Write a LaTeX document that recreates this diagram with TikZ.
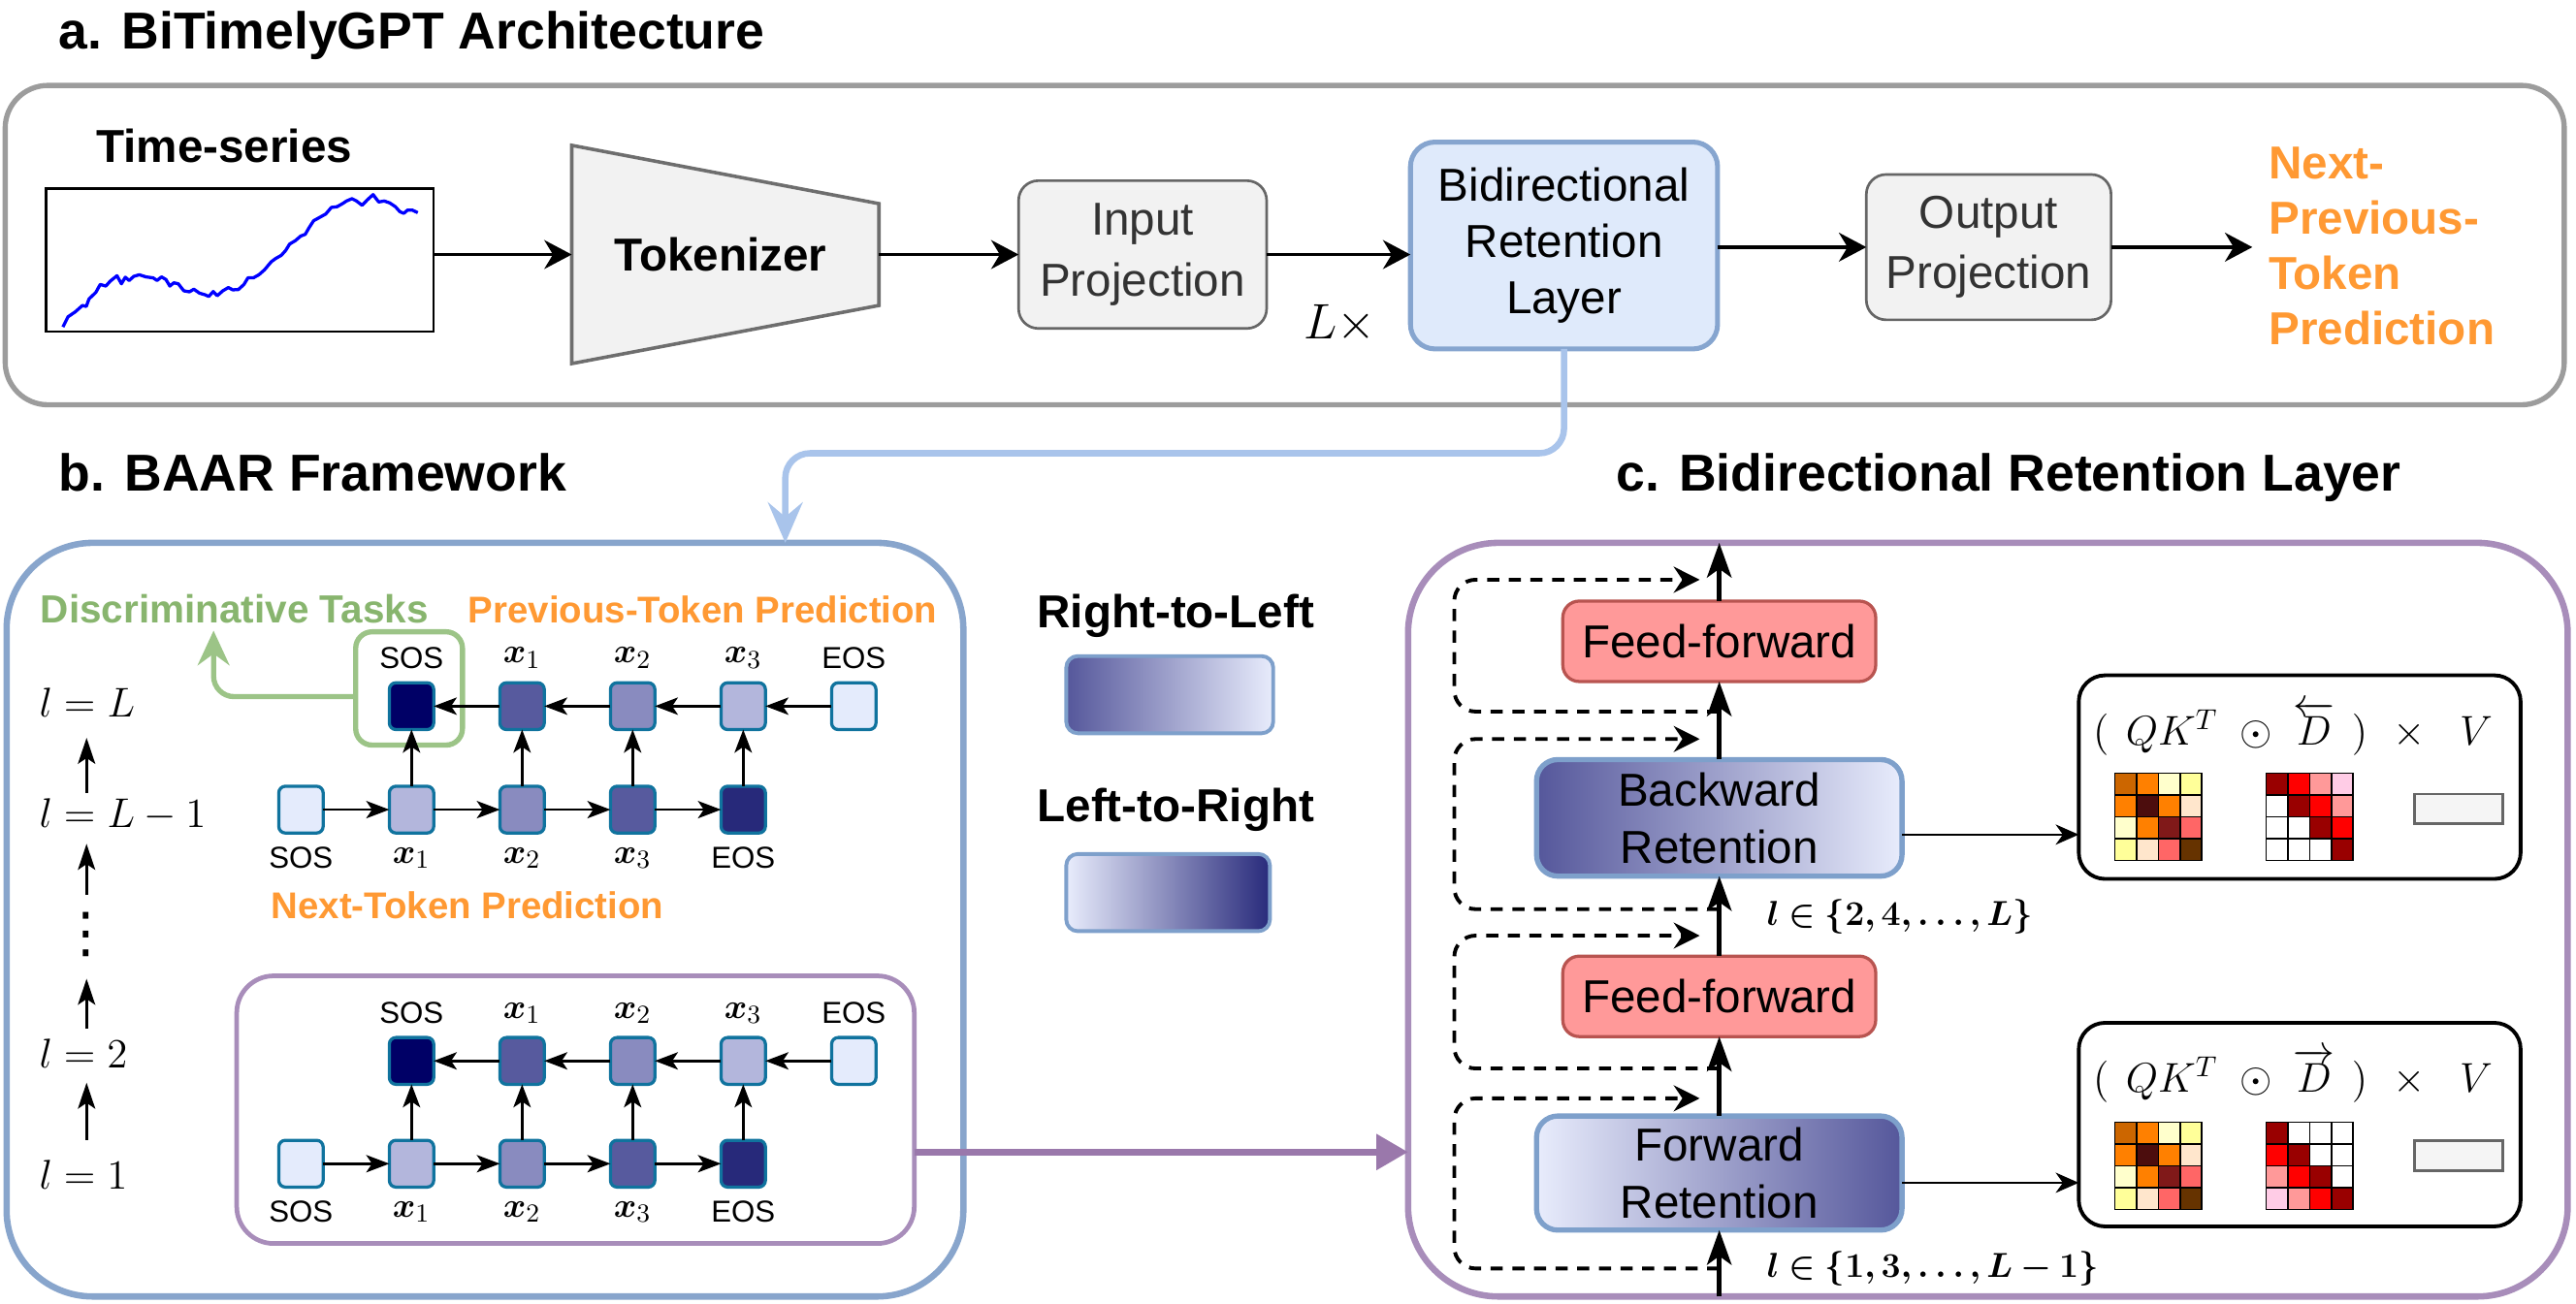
\documentclass[tikz,border=0pt]{standalone}
\usepackage{fontspec}
\setmainfont{Liberation Sans}
\newfontfamily\djv{DejaVu Sans}
\usepackage{amsmath,amssymb,bm}
\usetikzlibrary{arrows.meta,calc}

\definecolor{gedge}{HTML}{9C9C9C}
\definecolor{gfill}{HTML}{F2F2F2}
\definecolor{gdark}{HTML}{666666}
\definecolor{tokgray}{HTML}{6E6E6E}
\definecolor{gtext}{HTML}{333333}
\definecolor{bfill}{HTML}{DFEAFB}
\definecolor{bedge}{HTML}{86A5CF}
\definecolor{connc}{HTML}{A9C4EB}
\definecolor{baarc}{HTML}{88A5CC}
\definecolor{purpc}{HTML}{A88DBA}
\definecolor{purpa}{HTML}{9A78AB}
\definecolor{orng}{HTML}{FF9933}
\definecolor{grntx}{HTML}{88B56E}
\definecolor{grnbx}{HTML}{9CC487}
\definecolor{tokedge}{HTML}{10739E}
\definecolor{tA}{HTML}{000066}
\definecolor{tB}{HTML}{575A9E}
\definecolor{tC}{HTML}{898BBF}
\definecolor{tD}{HTML}{B3B6DC}
\definecolor{tE}{HTML}{E4EBFC}
\definecolor{tF}{HTML}{27297A}
\definecolor{gradd}{HTML}{55579B}
\definecolor{gradl}{HTML}{E8ECFC}
\definecolor{gradn}{HTML}{282A7B}
\definecolor{redge}{HTML}{7EA0CB}
\definecolor{fffill}{HTML}{FF9999}
\definecolor{ffedge}{HTML}{B85450}
\definecolor{tsblue}{HTML}{0000FF}
\definecolor{vfill}{HTML}{F5F5F5}
\definecolor{mA}{HTML}{CC6600}
\definecolor{mB}{HTML}{FF8000}
\definecolor{mC}{HTML}{FFFFCC}
\definecolor{mD}{HTML}{FFFF99}
\definecolor{mE}{HTML}{4C0D0D}
\definecolor{mF}{HTML}{FFE6CC}
\definecolor{mG}{HTML}{801919}
\definecolor{mH}{HTML}{FF6666}
\definecolor{mI}{HTML}{663300}
\definecolor{dA}{HTML}{990000}
\definecolor{dB}{HTML}{FF0000}
\definecolor{dC}{HTML}{FF9999}
\definecolor{dD}{HTML}{FFCCE6}

\newcommand\xlab[1]{{\fontsize{13}{15}\selectfont$\bm{x}_{#1}$}}
\newcommand\matqk[2]{%
 \foreach \i/\j/\c in {0/0/mA,1/0/mB,2/0/mC,3/0/mD,0/1/mB,1/1/mE,2/1/mB,3/1/mF,0/2/mC,1/2/mB,2/2/mG,3/2/mH,0/3/mD,1/3/mF,2/3/mH,3/3/mI}
 {\filldraw[fill=\c, draw=black, line width=0.5pt] ({#1+\i*13.2},{#2+\j*13.3}) rectangle ++(13.2,13.3);}}
\newcommand\matup[2]{%
 \foreach \i/\j/\c in {0/0/dA,1/0/dB,2/0/dC,3/0/dD,0/1/white,1/1/dA,2/1/dB,3/1/dC,0/2/white,1/2/white,2/2/dA,3/2/dB,0/3/white,1/3/white,2/3/white,3/3/dA}
 {\filldraw[fill=\c, draw=black, line width=0.5pt] ({#1+\i*13.2},{#2+\j*13.3}) rectangle ++(13.2,13.3);}}
\newcommand\matlo[2]{%
 \foreach \j/\i/\c in {0/0/dA,1/0/dB,2/0/dC,3/0/dD,0/1/white,1/1/dA,2/1/dB,3/1/dC,0/2/white,1/2/white,2/2/dA,3/2/dB,0/3/white,1/3/white,2/3/white,3/3/dA}
 {\filldraw[fill=\c, draw=black, line width=0.5pt] ({#1+\i*13.2},{#2+\j*13.3}) rectangle ++(13.2,13.3);}}

\tikzset{
  every node/.style={inner sep=0pt, outer sep=0pt},
  titlef/.style={font=\fontsize{18}{21}\selectfont\bfseries},
  boldf/.style={font=\fontsize{16}{19}\selectfont\bfseries},
  gbox/.style={draw=gdark, fill=gfill, line width=0.9pt, rounded corners=0.24cm, align=center, text=gtext, font=\fontsize{16}{21}\selectfont},
  bbox/.style={draw=bedge, fill=bfill, line width=1.7pt, rounded corners=0.3cm, align=center, font=\fontsize{16}{19.6}\selectfont},
  bigarr/.style={line width=1.1pt, -{Stealth[length=9.5pt,width=10pt,inset=3pt]}},
  conn/.style={draw=connc, line width=2.2pt, rounded corners=0.3cm, -{Stealth[length=14pt,width=12pt,inset=5pt]}},
  tokbox/.style={draw=tokedge, line width=1.1pt, rounded corners=0.08cm, minimum width=0.54cm, minimum height=0.57cm},
  lbl/.style={font=\fontsize{10.5}{12}\selectfont},
  tokarr/.style={line width=0.9pt, -{Stealth[length=8pt,width=6pt,inset=2pt]}},
  larr/.style={line width=0.9pt, -{Stealth[length=9pt,width=6pt,inset=2pt]}},
  mathlbl/.style={font=\fontsize{14}{16}\selectfont},
  grnarr/.style={draw=grnbx, line width=1.8pt, rounded corners=0.25cm, -{Stealth[length=12pt,width=11pt,inset=4pt]}},
  purparr/.style={draw=purpa, line width=2.4pt, -{Triangle[length=11pt,width=12pt]}},
  ffst/.style={draw=ffedge, fill=fffill, line width=1.1pt, rounded corners=0.2cm, minimum width=3.81cm, minimum height=0.98cm, font=\fontsize{16}{19}\selectfont},
  retst/.style={draw=redge, line width=1.8pt, rounded corners=0.26cm, minimum width=4.45cm, minimum height=1.42cm, align=center, font=\fontsize{16}{19.8}\selectfont},
  mainarr/.style={line width=1.6pt, -{Stealth[length=12pt,width=8.5pt,inset=3pt]}},
  dashloop/.style={line width=1.3pt, dash pattern=on 4.2pt off 3.3pt, rounded corners=0.26cm, -{Stealth[length=9pt,width=9pt,inset=3pt]}},
  thinarr/.style={line width=0.8pt, -{Stealth[length=8pt,width=7pt,inset=2.5pt]}},
  fboxst/.style={draw=black, line width=1.3pt, rounded corners=0.32cm, minimum width=5.38cm, minimum height=2.48cm},
  fmf/.style={font=\fontsize{14.8}{17}\selectfont},
  legbar/.style={draw=redge, line width=1.3pt, rounded corners=0.14cm, minimum height=0.94cm},
  setlbl/.style={anchor=west, font=\fontsize{12.6}{14}\selectfont},
}

\begin{document}
\begin{tikzpicture}[x=0.02cm, y=-0.02cm]
\useasboundingbox (0,0) rectangle (1568,794);

% ================= a =================
\node[titlef, anchor=base west] (ta) at (36,30) {a. BiTimelyGPT Architecture};
\node[draw=gedge, line width=1.8pt, rounded corners=0.52cm, minimum width=31.16cm, minimum height=3.89cm] (abox) at (782,149.25) {};

\node[boldf] (tslbl) at (136.5,88.6) {Time-series};
\node[draw=black, line width=0.9pt, minimum width=4.72cm, minimum height=1.74cm] (tsbox) at (146,158.5) {};
\draw[tsblue, line width=1.1pt, line join=round] plot coordinates {
(38.3,199.1) (41.4,192.9) (45.8,189.9) (50.2,186.0) (52.5,186.6) (54.2,182.0) (58.3,178.1) (61.0,173.2) (64.4,174.2) (67.1,171.2) (71.2,167.9) (73.9,172.8) (76.3,168.8) (78.6,170.8) (81.4,168.3) (84.8,167.3) (88.8,168.6) (93.2,169.2) (95.6,170.8) (98.3,168.6) (101.0,170.2) (103.4,174.2) (105.8,172.2) (108.5,172.8) (111.9,177.1) (115.3,177.7) (118.0,176.1) (121.4,178.5) (124.8,179.5) (127.1,180.5) (129.8,177.5) (132.2,180.1) (135.6,177.1) (139.0,175.1) (141.7,176.5) (145.1,176.3) (148.5,173.2) (150.9,169.2) (154.2,169.2) (157.6,167.3) (161.0,164.3) (165.1,159.4) (167.8,157.4) (171.2,155.5) (173.9,152.5) (176.3,148.6) (179.7,146.6) (183.1,143.7) (185.8,142.7) (188.1,138.7) (190.9,134.4) (194.9,132.2) (198.3,130.3) (201.7,126.3) (205.1,125.9) (208.5,124.0) (210.9,122.4) (214.2,121.0) (217.0,122.4) (220.4,125.0) (223.7,121.6) (227.1,118.5) (230.5,123.0) (233.9,122.4) (237.3,123.6) (240.7,125.9) (243.4,128.9) (245.8,129.9) (248.1,127.9) (250.9,127.9) (254.3,129.5)};

\draw[draw=tokgray, fill=gfill, line width=1.2pt] (348,88.5) -- (535,124) -- (535,186) -- (348,221.4) -- cycle;
\node[boldf] (tok) at (438.6,155) {Tokenizer};
\coordinate (tokW) at (348,155);
\coordinate (tokE) at (535,155);
\draw[bigarr] (tsbox.east |- tokW) -- (tokW);

\node[gbox, minimum width=3.02cm, minimum height=1.8cm] (inproj) at (695.5,155) {Input\\Projection};
\draw[bigarr] (tokE) -- (inproj.west);

\node[bbox, minimum width=3.74cm, minimum height=2.52cm] (bidir) at (952,149.5) {Bidirectional\\Retention\\Layer};
\draw[bigarr] (inproj.east) -- (inproj.east -| bidir.west);
\node[font=\fontsize{19}{22}\selectfont] (lx) at (815.5,197) {$L\times$};

\node[gbox, minimum width=2.98cm, minimum height=1.77cm] (outproj) at (1210.5,150.5) {Output\\Projection};
\draw[bigarr] (bidir.east |- outproj.west) -- (outproj.west);
\coordinate (nxt) at (1371,150.5);
\draw[bigarr] (outproj.east) -- (nxt);
\node[anchor=west, align=left, text=orng, font=\fontsize{16}{19.2}\selectfont\bfseries] (nextlbl) at (1381,150) {Next-\\Previous-\\Token\\Prediction};

% ================= b =================
\node[titlef, anchor=base west] (tb) at (36,299) {b. BAAR Framework};
\node[draw=baarc, line width=2.2pt, rounded corners=1.05cm, minimum width=11.65cm, minimum height=9.18cm] (baar) at (295.2,560) {};
\coordinate (connx) at (478,276);
\draw[conn] (bidir.south) |- (connx) -- (connx |- baar.north);

\node[text=grntx, font=\fontsize{13.6}{16}\selectfont\bfseries] (disc) at (142.7,371) {Discriminative Tasks};
\node[text=orng, font=\fontsize{12.9}{15}\selectfont\bfseries] (prevlbl) at (427.8,371) {Previous-Token Prediction};
\node[draw=grnbx, line width=1.8pt, rounded corners=0.2cm, minimum width=1.3cm, minimum height=1.38cm] (gbx) at (249,419.2) {};
\coordinate (disce) at (130,384);
\coordinate (gstart) at ($(gbx.west)+(0,5)$);
\draw[grnarr] (gstart) -| (disce);

% upper group
\foreach \n/\x/\c/\t in {1/250.5/tA/SOS, 2/317.8/tB/{\xlab{1}}, 3/385.1/tC/{\xlab{2}}, 4/452.4/tD/{\xlab{3}}, 5/519.7/tE/EOS}{
  \node[tokbox, fill=\c] (uT\n) at (\x,430) {};
  \node[lbl] (uTl\n) at (\x,400.5) {\t};
}
\foreach \n/\x/\c/\t in {1/183.2/tE/SOS, 2/250.5/tD/{\xlab{1}}, 3/317.8/tC/{\xlab{2}}, 4/385.1/tB/{\xlab{3}}, 5/452.4/tF/EOS}{
  \node[tokbox, fill=\c] (uB\n) at (\x,493) {};
  \node[lbl] (uBl\n) at (\x,522.5) {\t};
}
\foreach \a/\b in {5/4,4/3,3/2,2/1} \draw[tokarr] (uT\a.west) -- (uT\b.east);
\foreach \a/\b in {1/2,2/3,3/4,4/5} \draw[tokarr] (uB\a.east) -- (uB\b.west);
\foreach \a/\b in {2/1,3/2,4/3,5/4} \draw[tokarr] (uB\a.north) -- (uT\b.south);
\node[text=orng, font=\fontsize{12.9}{15}\selectfont\bfseries] (nextlbl2) at (284.6,551) {Next-Token Prediction};

% inner purple box
\node[draw=purpc, line width=1.6pt, rounded corners=0.45cm, minimum width=8.25cm, minimum height=3.26cm] (inner) at (350.3,675.7) {};
\foreach \n/\x/\c/\t in {1/250.5/tA/SOS, 2/317.8/tB/{\xlab{1}}, 3/385.1/tC/{\xlab{2}}, 4/452.4/tD/{\xlab{3}}, 5/519.7/tE/EOS}{
  \node[tokbox, fill=\c] (lT\n) at (\x,646) {};
  \node[lbl] (lTl\n) at (\x,617) {\t};
}
\foreach \n/\x/\c/\t in {1/183.2/tE/SOS, 2/250.5/tD/{\xlab{1}}, 3/317.8/tC/{\xlab{2}}, 4/385.1/tB/{\xlab{3}}, 5/452.4/tF/EOS}{
  \node[tokbox, fill=\c] (lB\n) at (\x,708.6) {};
  \node[lbl] (lBl\n) at (\x,738) {\t};
}
\foreach \a/\b in {5/4,4/3,3/2,2/1} \draw[tokarr] (lT\a.west) -- (lT\b.east);
\foreach \a/\b in {1/2,2/3,3/4,4/5} \draw[tokarr] (lB\a.east) -- (lB\b.west);
\foreach \a/\b in {2/1,3/2,4/3,5/4} \draw[tokarr] (lB\a.north) -- (lT\b.south);

% layer labels
\coordinate (ax) at (52.7,0);
\node[mathlbl, anchor=west] (lL) at (24,428) {$l=L$};
\node[mathlbl, anchor=west] (lL1) at (24,496) {$l=L-1$};
\node[minimum height=0.6cm, font=\djv\fontsize{19}{20}\selectfont] (vd) at (52.7,569) {⋮};
\node[mathlbl, anchor=west] (l2) at (24,641.5) {$l=2$};
\node[mathlbl, anchor=west] (l1) at (24,715) {$l=1$};
\draw[larr, shorten <=0.07cm, shorten >=0.25cm] (lL1.north -| ax) -- (lL.south -| ax);
\draw[larr, shorten <=0.18cm, shorten >=0.16cm] (vd.north -| ax) -- (lL1.south -| ax);
\draw[larr, shorten <=0.126cm, shorten >=0.24cm] (l2.north -| ax) -- (vd.south -| ax);
\draw[larr, shorten <=0.24cm, shorten >=0.18cm] (l1.north -| ax) -- (l2.south -| ax);

% legend
\node[boldf] (rtl) at (715.7,375) {Right-to-Left};
\node[legbar, minimum width=2.52cm, left color=gradd, right color=gradl] (rtlbar) at (712,423) {};
\node[boldf] (ltr) at (715.7,493) {Left-to-Right};
\node[legbar, minimum width=2.48cm, left color=gradl, right color=gradn] (ltrbar) at (711,543.5) {};

% ================= c =================
\node[titlef, anchor=base west] (tc) at (984,299) {c. Bidirectional Retention Layer};
\node[draw=purpc, line width=2.2pt, rounded corners=1.1cm, minimum width=14.12cm, minimum height=9.18cm] (cbox) at (1210,560) {};

\coordinate (pst) at ($(inner.east)+(0,25.8)$);
\draw[purparr] (pst) -- (pst -| cbox.west);

\node[ffst] (ff1) at (1046.5,390.5) {Feed-forward};
\node[retst, left color=gradd, right color=gradl] (br) at (1046.5,498) {Backward\\Retention};
\node[ffst] (ff2) at (1046.5,606.7) {Feed-forward};
\node[retst, minimum height=1.39cm, left color=gradl, right color=gradd] (fr) at (1046.5,714.3) {Forward\\Retention};

\draw[mainarr] (cbox.south -| fr.south) -- (fr.south);
\draw[mainarr] (fr.north) -- (ff2.south);
\draw[mainarr] (ff2.north) -- (br.south);
\draw[mainarr] (br.north) -- (ff1.south);
\draw[mainarr] (ff1.north) -- (cbox.north -| ff1.north);

\coordinate (lpx) at (885.2,0);
\coordinate (r1a) at (1046.5,433.3); \coordinate (r1b) at (1034.6,353);
\coordinate (r2a) at (1046.5,553.6); \coordinate (r2b) at (1034.6,450);
\coordinate (r3a) at (1046.5,650.6); \coordinate (r3b) at (1034.6,569.7);
\coordinate (r4a) at (1046.5,772.4); \coordinate (r4b) at (1034.6,668.8);
\draw[dashloop] (r1a) -| (lpx |- r1b) -- (r1b);
\draw[dashloop] (r2a) -| (lpx |- r2b) -- (r2b);
\draw[dashloop] (r3a) -| (lpx |- r3b) -- (r3b);
\draw[dashloop] (r4a) -| (lpx |- r4b) -- (r4b);

\node[setlbl] (lev) at (1075.5,558.2) {$\bm{l\in\{2,4,\ldots,L\}}$};
\node[setlbl] (lodd) at (1075.5,772.4) {$\bm{l\in\{1,3,\ldots,L-1\}}$};

\node[fboxst] (fb1) at (1399.8,473.2) {};
\node[fboxst] (fb2) at (1399.8,684.8) {};
\coordinate (bro) at ($(br.east)+(0,10.2)$);
\draw[thinarr] (bro) -- (bro -| fb1.west);
\coordinate (fro) at ($(fr.east)+(0,5.9)$);
\draw[thinarr] (fro) -- (fro -| fb2.west);

\node[fmf, anchor=base west] (fm1) at (1274,453.6) {$($\hspace{0.4em}$QK^T$\hspace{0.5em}$\odot$\hspace{0.5em}$\overleftarrow{D}$\hspace{0.4em}$)$\hspace{0.6em}$\times$\hspace{0.8em}$V$};
\node[fmf, anchor=base west] (fm2) at (1274,665) {$($\hspace{0.4em}$QK^T$\hspace{0.5em}$\odot$\hspace{0.5em}$\overrightarrow{D}$\hspace{0.4em}$)$\hspace{0.6em}$\times$\hspace{0.8em}$V$};

\matqk{1287.4}{470.7}
\matup{1379.5}{470.7}
\matqk{1287.4}{683.2}
\matlo{1379.5}{683.2}
\node[draw=gdark, fill=vfill, line width=1pt, minimum width=1.07cm, minimum height=0.36cm] (v1) at (1496.6,492.5) {};
\node[draw=gdark, fill=vfill, line width=1pt, minimum width=1.07cm, minimum height=0.36cm] (v2) at (1496.6,703.8) {};
\end{tikzpicture}
\end{document}
